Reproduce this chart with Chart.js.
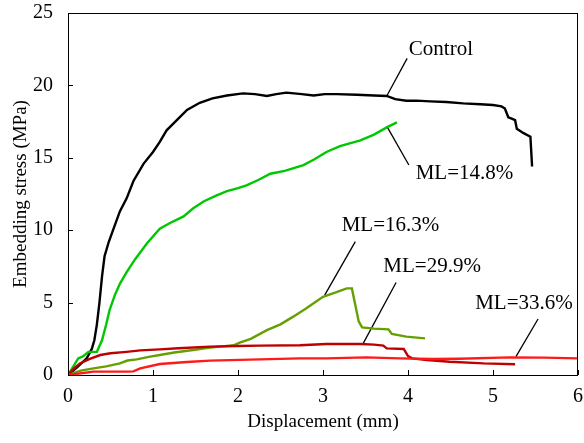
<!DOCTYPE html>
<html>
<head>
<meta charset="utf-8">
<script src="https://cdn.jsdelivr.net/npm/chart.js@4"></script>
<style>
  html, body { margin: 0; padding: 0; background: #fff; }
  #wrap { width: 584px; height: 443px; }
</style>
</head>
<body>
<div id="wrap"><canvas id="chart"></canvas></div>
<script>
// data: displacement (mm) / embedding stress (MPa)
const controlDisp = [0, 0.10, 0.22, 0.28, 0.31, 0.34, 0.37, 0.40, 0.43, 0.48, 0.53, 0.61, 0.69, 0.77, 0.89, 1.00, 1.08, 1.16, 1.28, 1.40, 1.55, 1.70, 1.87, 2.06, 2.20, 2.34, 2.45, 2.57, 2.75, 2.89, 3.02, 3.16, 3.40, 3.60, 3.75, 3.85, 3.98, 4.10, 4.26, 4.45, 4.65, 4.85, 5.00, 5.10, 5.14, 5.18, 5.22, 5.26, 5.28, 5.36, 5.44, 5.46];
const controlStress = [0, 0.5, 1.15, 1.8, 2.4, 3.5, 5.0, 6.8, 8.2, 9.2, 10.0, 11.3, 12.2, 13.4, 14.6, 15.4, 16.1, 16.9, 17.6, 18.3, 18.8, 19.1, 19.3, 19.45, 19.4, 19.27, 19.4, 19.5, 19.4, 19.3, 19.4, 19.4, 19.35, 19.3, 19.27, 19.05, 18.94, 18.95, 18.9, 18.85, 18.76, 18.7, 18.65, 18.55, 18.4, 17.8, 17.7, 17.6, 17.0, 16.7, 16.46, 14.4];

const ml148Disp = [0, 0.12, 0.18, 0.24, 0.34, 0.40, 0.45, 0.49, 0.55, 0.61, 0.69, 0.79, 0.93, 1.08, 1.20, 1.36, 1.47, 1.60, 1.75, 1.87, 2.00, 2.10, 2.25, 2.38, 2.55, 2.77, 2.90, 3.04, 3.20, 3.44, 3.60, 3.75, 3.87];
const ml148Stress = [0, 1.15, 1.3, 1.6, 1.6, 2.4, 3.5, 4.5, 5.5, 6.3, 7.1, 8.0, 9.1, 10.1, 10.5, 10.95, 11.5, 12.0, 12.4, 12.7, 12.9, 13.1, 13.5, 13.9, 14.1, 14.5, 14.9, 15.4, 15.8, 16.2, 16.6, 17.1, 17.45];

const ml163Disp = [0, 0.15, 0.30, 0.45, 0.61, 0.70, 0.81, 0.95, 1.08, 1.25, 1.47, 1.65, 1.79, 1.95, 2.02, 2.15, 2.34, 2.50, 2.65, 2.80, 3.00, 3.15, 3.28, 3.34, 3.36, 3.42, 3.46, 3.60, 3.77, 3.81, 3.98, 4.20];
const ml163Stress = [0, 0.3, 0.46, 0.6, 0.8, 1.0, 1.08, 1.25, 1.38, 1.55, 1.73, 1.88, 1.96, 2.05, 2.23, 2.5, 3.1, 3.5, 4.03, 4.6, 5.4, 5.7, 5.98, 5.98, 5.4, 3.7, 3.29, 3.2, 3.15, 2.83, 2.65, 2.53];

const ml299Disp = [0, 0.07, 0.14, 0.25, 0.38, 0.50, 0.69, 0.85, 1.08, 1.30, 1.67, 2.00, 2.26, 2.73, 3.04, 3.44, 3.60, 3.71, 3.75, 3.95, 4.00, 4.05, 4.22, 4.49, 4.89, 5.26];
const ml299Stress = [0, 0.45, 0.8, 1.1, 1.38, 1.5, 1.6, 1.7, 1.77, 1.85, 1.96, 2.0, 2.03, 2.05, 2.14, 2.14, 2.1, 2.03, 1.84, 1.8, 1.31, 1.15, 1.04, 0.92, 0.8, 0.74];

const ml336Disp = [0, 0.30, 0.69, 0.77, 0.85, 1.08, 1.40, 1.67, 2.26, 2.73, 3.04, 3.51, 3.90, 4.30, 4.60, 5.20, 5.60, 6.00];
const ml336Stress = [0, 0.23, 0.23, 0.25, 0.46, 0.76, 0.9, 0.99, 1.08, 1.15, 1.15, 1.22, 1.15, 1.1, 1.12, 1.22, 1.2, 1.15];

// callout labels: text, label anchor (x, y), leader line start and end
const labelText = ['Control', 'ML=14.8%', 'ML=16.3%', 'ML=29.9%', 'ML=33.6%'];
const labelX = [4.01, 4.09, 3.22, 3.71, 4.79];
const labelY = [22.51, 13.93, 10.36, 7.48, 4.95];
const leaderFromX = [3.75, 3.75, 3.02, 3.47, 5.27];
const leaderFromY = [19.27, 17.19, 5.52, 2.15, 1.27];
const leaderToX = [3.99, 4.01, 3.38, 3.86, 5.53];
const leaderToY = [21.87, 14.5, 9.21, 6.39, 3.87];

const xTicks = [0, 1, 2, 3, 4, 5, 6];
const yTicks = [0, 5, 10, 15, 20, 25];

const SERIF = "'Liberation Serif', 'Times New Roman', serif";

function pts(xs, ys) {
  return xs.map((x, i) => ({ x: x, y: ys[i] }));
}
function curve(xs, ys, color) {
  return { data: pts(xs, ys), borderColor: color, borderWidth: 2.4, showLine: true, pointRadius: 0, tension: 0, fill: false };
}

const datasets = [
  curve(ml336Disp, ml336Stress, '#ff1a1a'),
  curve(ml299Disp, ml299Stress, '#c00000'),
  curve(ml163Disp, ml163Stress, '#66a000'),
  curve(ml148Disp, ml148Stress, '#00c800'),
  curve(controlDisp, controlStress, '#000000')
];
labelText.forEach((t, i) => {
  datasets.push({
    data: [{ x: leaderFromX[i], y: leaderFromY[i] }, { x: leaderToX[i], y: leaderToY[i] }],
    borderColor: '#000', borderWidth: 1.3, showLine: true, pointRadius: 0
  });
});

// frame, inward ticks and callout texts
const framePlugin = {
  id: 'frame',
  afterDatasetsDraw(chart) {
    const ctx = chart.ctx, a = chart.chartArea;
    const xs = chart.scales.x, ys = chart.scales.y;
    ctx.save();
    ctx.strokeStyle = '#000';
    ctx.lineWidth = 1;
    ctx.strokeRect(a.left + 0.5, a.top + 0.5, a.right - a.left - 1, a.bottom - a.top);
    ctx.beginPath();
    xTicks.forEach(v => {
      const px = Math.round(xs.getPixelForValue(v)) + 0.5;
      ctx.moveTo(px, a.bottom);
      ctx.lineTo(px, a.bottom - 5);
    });
    yTicks.forEach(v => {
      const py = Math.round(ys.getPixelForValue(v)) + 0.5;
      ctx.moveTo(a.left, py);
      ctx.lineTo(a.left + 5, py);
    });
    ctx.stroke();
    ctx.fillStyle = '#000';
    ctx.font = "21px " + SERIF;
    ctx.textAlign = 'left';
    ctx.textBaseline = 'middle';
    labelText.forEach((t, i) => {
      ctx.fillText(t, xs.getPixelForValue(labelX[i]), ys.getPixelForValue(labelY[i]));
    });
    ctx.restore();
  }
};

new Chart(document.getElementById('chart'), {
  type: 'scatter',
  data: { datasets: datasets },
  options: {
    responsive: true,
    maintainAspectRatio: false,
    animation: false,
    layout: { padding: { left: 0, top: 13, right: 6, bottom: 0 } },
    plugins: { legend: { display: false }, tooltip: { enabled: false } },
    scales: {
      x: {
        type: 'linear', min: 0, max: 6,
        afterBuildTicks: s => { s.ticks = xTicks.map(v => ({ value: v })); },
        afterFit: s => { s.height = 68; s.paddingLeft = 0; s.paddingRight = 0; },
        grid: { display: false, drawTicks: false },
        border: { display: false },
        ticks: { color: '#000', padding: 10, font: { family: SERIF, size: 20 } },
        title: { display: true, text: 'Displacement (mm)', color: '#000', font: { family: SERIF, size: 19 }, padding: { top: 0, bottom: 10 } }
      },
      y: {
        type: 'linear', min: 0, max: 25,
        afterBuildTicks: s => { s.ticks = yTicks.map(v => ({ value: v })); },
        afterFit: s => { s.width = 68; s.paddingTop = 0; s.paddingBottom = 0; },
        grid: { display: false, drawTicks: false },
        border: { display: false },
        ticks: { color: '#000', padding: 15, font: { family: SERIF, size: 20 } },
        title: { display: true, text: 'Embedding stress (MPa)', color: '#000', font: { family: SERIF, size: 19 }, padding: { top: 10, bottom: 0 } }
      }
    }
  },
  plugins: [framePlugin]
});
</script>
</body>
</html>
